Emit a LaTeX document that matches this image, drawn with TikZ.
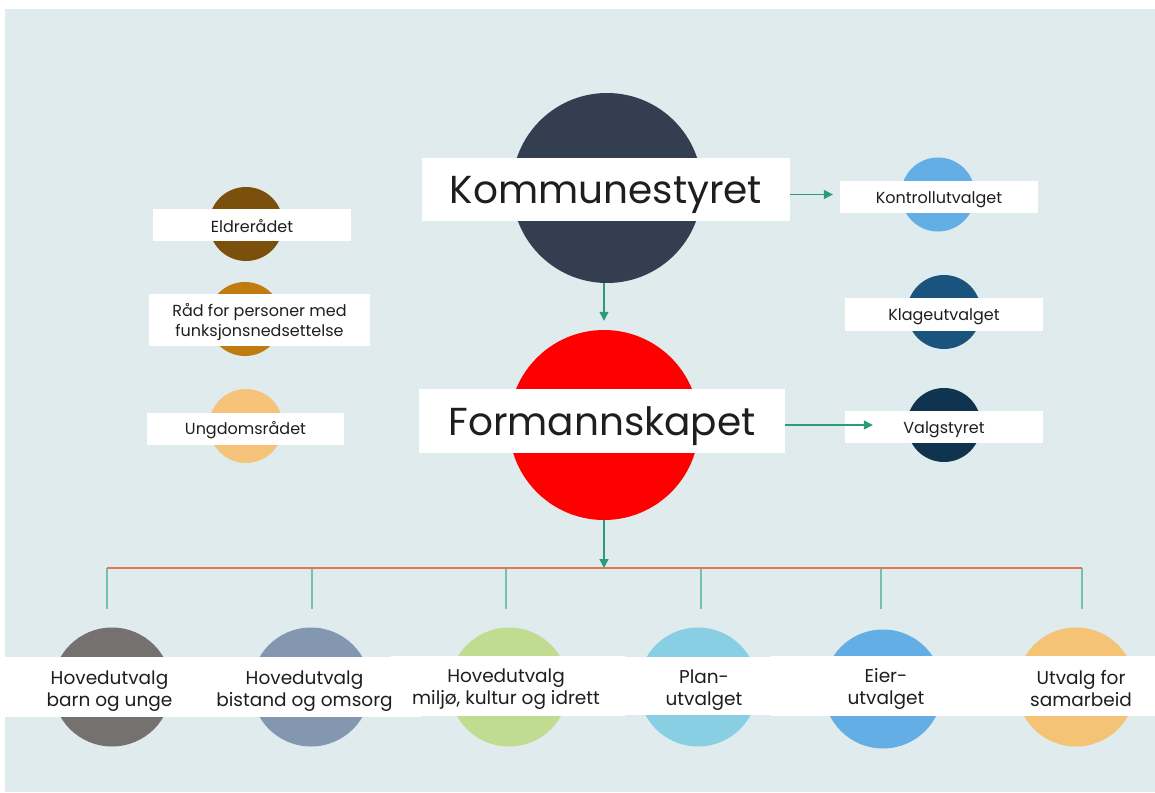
\documentclass[tikz,border=0pt]{standalone}
\usepackage{fontspec}
\setmainfont{Poppins}
\usetikzlibrary{arrows.meta}
\definecolor{bg}{HTML}{DFEBEC}
\definecolor{cks}{HTML}{333F50}
\definecolor{cfs}{HTML}{FF0000}
\definecolor{ckont}{HTML}{62AEE5}
\definecolor{cklage}{HTML}{1A547E}
\definecolor{cvalg}{HTML}{10344F}
\definecolor{celdre}{HTML}{7B4F0C}
\definecolor{crad}{HTML}{BF7A10}
\definecolor{cung}{HTML}{F5C37A}
\definecolor{cb1}{HTML}{767171}
\definecolor{cb2}{HTML}{8497B0}
\definecolor{cb3}{HTML}{BFDC91}
\definecolor{cb4}{HTML}{88CFE3}
\definecolor{cb5}{HTML}{62AEE5}
\definecolor{cb6}{HTML}{F5C376}
\definecolor{carrow}{HTML}{2A9D78}
\definecolor{ctick}{HTML}{72C3AA}
\definecolor{cline}{HTML}{E0764E}
\definecolor{ctext}{HTML}{1E1E1E}
\tikzset{
  disc/.style={circle, inner sep=0pt, draw=none},
  bigdisc/.style={disc, minimum size=190pt},
  meddisc/.style={disc, minimum size=74pt},
  botdisc/.style={disc, minimum size=119pt},
  wbox/.style={fill=white, draw=none, inner sep=0pt},
  lbl/.style={inner sep=0pt, text=ctext, align=center},
  bigtext/.style={lbl, font=\fontsize{39}{44}\selectfont},
  smalltext/.style={lbl, font=\fontsize{16}{20}\selectfont},
  bottext/.style={lbl, font=\fontsize{18.5}{22}\selectfont},
  arr/.style={draw=carrow, line width=1.3pt, -{Triangle[width=9pt,length=9pt]}},
  tick/.style={draw=ctick, line width=1.3pt},
  hline/.style={draw=cline, line width=1.5pt}
}
\begin{document}
\begin{tikzpicture}[x=1pt,y=-1pt]
\useasboundingbox (0,0) rectangle (1155,792);
\fill[bg] (5,9) rectangle (1155,792);

% central discs
\node[bigdisc, fill=cks] (ks) at (607,188) {};
\node[bigdisc, fill=cfs] (fs) at (604,425) {};
\node[wbox, minimum width=368pt, minimum height=63pt] (ksb) at (606,189.5) {};
\node[wbox, minimum width=366pt, minimum height=64pt] (fsb) at (602,421) {};
\node[bigtext] (kst) at ([yshift=-5pt]ksb.center) {Kommunestyret};
\node[bigtext] (fst) at ([yshift=-5pt]fsb.center) {Formannskapet};

% right discs
\node[meddisc, fill=ckont] (kont) at (938,194.5) {};
\node[meddisc, fill=cklage] (klage) at (944,312) {};
\node[meddisc, fill=cvalg] (valg) at (944,425) {};
\node[wbox, minimum width=198pt, minimum height=32pt] (kontb) at (939,197) {};
\node[wbox, minimum width=198pt, minimum height=33pt] (klageb) at (944,314.5) {};
\node[wbox, minimum width=198pt, minimum height=32pt] (valgb) at (944,427) {};
\node[smalltext] (kontt) at ([yshift=-2.5pt]kontb.center) {Kontrollutvalget};
\node[smalltext] (klaget) at ([yshift=-2.5pt]klageb.center) {Klageutvalget};
\node[smalltext] (valgt) at ([yshift=-2.5pt]valgb.center) {Valgstyret};

% left discs
\node[meddisc, fill=celdre] (eldre) at (246,224) {};
\node[meddisc, fill=crad] (rad) at (245,319) {};
\node[meddisc, fill=cung] (ung) at (246,426) {};
\node[wbox, minimum width=198pt, minimum height=32pt] (eldreb) at (252,225) {};
\node[wbox, minimum width=221pt, minimum height=52pt] (radb) at (259.5,320) {};
\node[wbox, minimum width=197pt, minimum height=32pt] (ungb) at (245.5,429) {};
\node[smalltext] (eldret) at ([yshift=-1.5pt]eldreb.center) {Eldrerådet};
\node[smalltext] (radt) at ([yshift=-2pt]radb.center) {Råd for personer med\\funksjonsnedsettelse};
\node[smalltext] (ungt) at ([yshift=-1.5pt]ungb.center) {Ungdomsrådet};

% bottom discs
\node[botdisc, fill=cb1] (b1) at (112,687) {};
\node[botdisc, fill=cb2] (b2) at (311,687) {};
\node[botdisc, fill=cb3] (b3) at (509,687) {};
\node[botdisc, fill=cb4] (b4) at (698,687) {};
\node[botdisc, fill=cb5] (b5) at (883,689) {};
\node[botdisc, fill=cb6] (b6) at (1076,687) {};

% bottom boxes (white band)
\fill[white] (5,657) rectangle (215,717);
\fill[white] (205,657) rectangle (421,717);
\fill[white] (391,656) rectangle (625,716);
\fill[white] (618,657) rectangle (793,715);
\fill[white] (771,656) rectangle (980,716);
\fill[white] (970,656) rectangle (1155,716);
\node[bottext] (b1t) at (109.5,691) {Hovedutvalg\\barn og unge};
\node[bottext] (b2t) at (304.5,691) {Hovedutvalg\\bistand og omsorg};
\node[bottext] (b3t) at (506,689) {Hovedutvalg\\miljø, kultur og idrett};
\node[bottext] (b4t) at (704,690) {Plan-\\utvalget};
\node[bottext] (b5t) at (886,689) {Eier-\\utvalget};
\node[bottext] (b6t) at (1081,689) {Utvalg for\\samarbeid};

% connectors
\draw[arr, shorten >=7pt] (ksb.east |- kont.center) -- (kontb.west |- kont.center);
\draw[arr, shorten >=9pt] (fs.north |- ks.south) -- (fs.north);
\draw[arr] (fsb.east |- valg.center) -- ([xshift=28pt]valgb.west |- valg.center);
\coordinate (hl) at (604,568);
\draw[arr] (fs.south) -- (hl);
\coordinate (l1) at (107,568);
\coordinate (l6) at (1082,568);
\foreach \x/\n in {107/1,312/2,506/3,701/4,881/5,1082/6}{
  \coordinate (ta\n) at (\x,568);
  \coordinate (tb\n) at (\x,609);
  \draw[tick] (ta\n) -- (tb\n);
}
\draw[hline] (l1) -- (l6);
\end{tikzpicture}
\end{document}
